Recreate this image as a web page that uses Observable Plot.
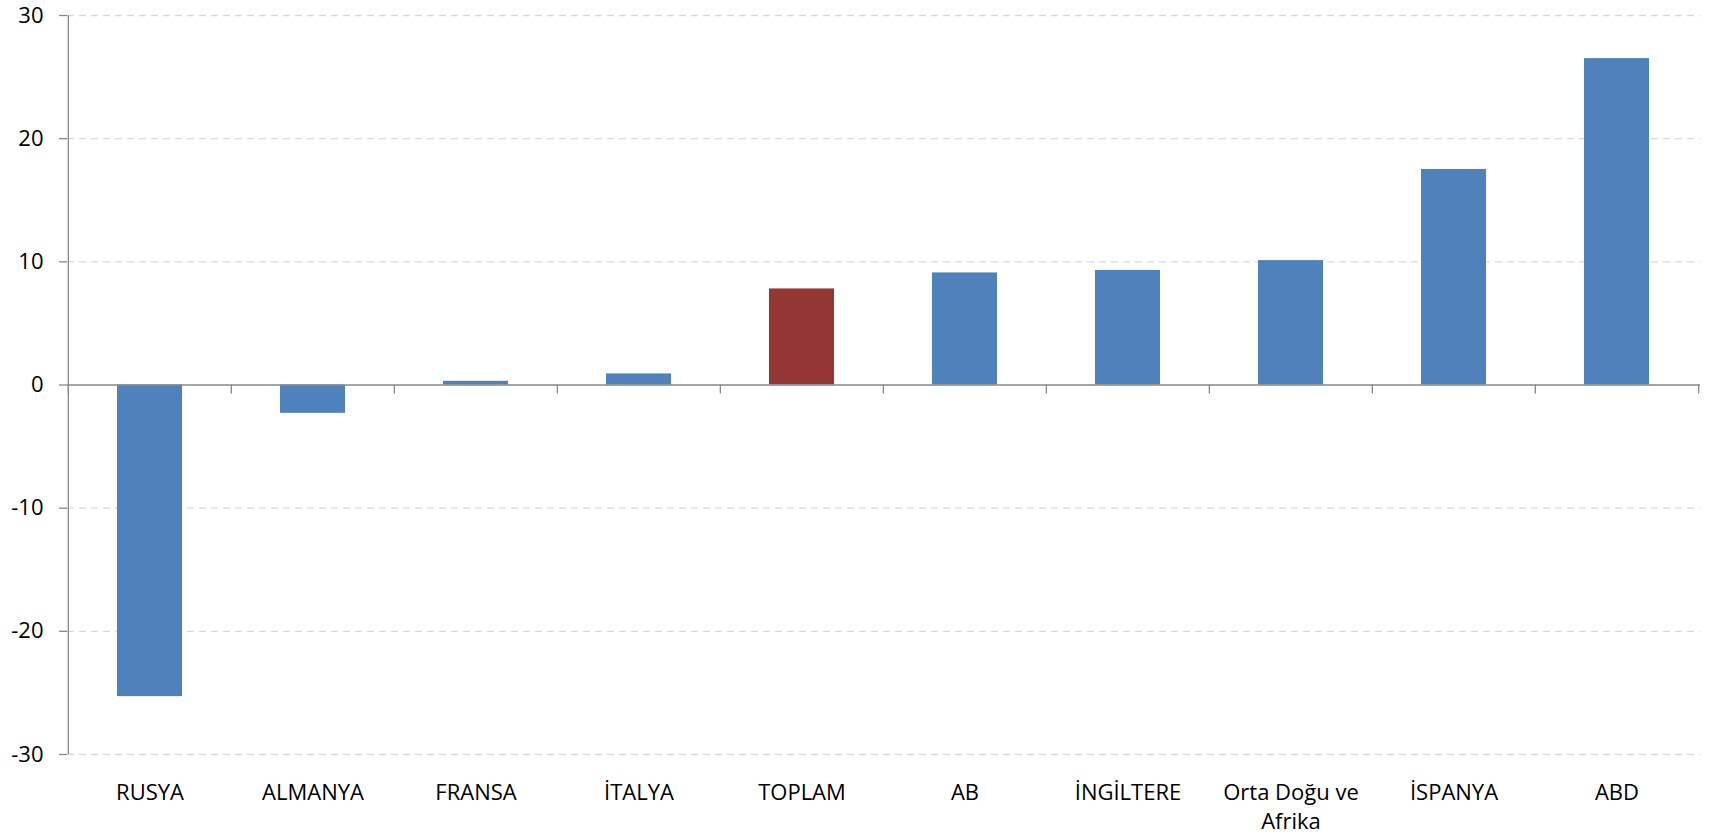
<!DOCTYPE html>
<html>
<head>
<meta charset="utf-8">
<script src="https://cdn.jsdelivr.net/npm/d3@7"></script>
<script src="https://cdn.jsdelivr.net/npm/@observablehq/plot@0.6"></script>
<style>
  html, body { margin: 0; padding: 0; background: #fff; }
  #chart svg { display: block; font-family: "Open Sans", sans-serif; }
</style>
</head>
<body>
<div id="chart"></div>
<script>
const categories = ["RUSYA", "ALMANYA", "FRANSA", "İTALYA", "TOPLAM", "AB", "İNGİLTERE", "Orta Doğu ve\nAfrika", "İSPANYA", "ABD"];
const values = [-25.3, -2.3, 0.3, 0.9, 7.8, 9.1, 9.3, 10.1, 17.5, 26.5];
const yTicks = [-30, -20, -10, 0, 10, 20, 30];
const gridTicks = [-30, -20, -10, 10, 20, 30];
const highlight = "TOPLAM";

const data = categories.map((c, i) => ({category: c, value: values[i]}));

const W = 1710, H = 836;
const mL = 67, mR = 10, mT = 15, mB = 82;
const step = (W - mL - mR) / categories.length;
const axisGray = "#898989";

const chart = Plot.plot({
  width: W,
  height: H,
  marginLeft: mL,
  marginRight: mR,
  marginTop: mT,
  marginBottom: mB,
  style: {background: "#fff", color: "#000", fontFamily: "Open Sans, sans-serif"},
  x: {domain: categories, paddingInner: 0.6, paddingOuter: 0.3, axis: null, label: null},
  y: {domain: [-30, 30], axis: null, label: null},
  marks: [
    Plot.ruleY(gridTicks, {stroke: "#d9d9d9", strokeWidth: 1.3, strokeDasharray: "7,5"}),
    Plot.barY(data, {
      x: "category",
      y: "value",
      fill: d => d.category === highlight ? "#943634" : "#4f81bd"
    }),
    Plot.ruleY([0], {stroke: axisGray, strokeWidth: 1.3}),
    // category boundary ticks below zero line
    Plot.ruleX(categories, {x: d => d, y1: 0, y2: 0, dx: -step / 2, insetBottom: -9, stroke: axisGray, strokeWidth: 1.3}),
    Plot.ruleX([categories[categories.length - 1]], {x: d => d, y1: 0, y2: 0, dx: step / 2, insetBottom: -9, stroke: axisGray, strokeWidth: 1.3}),
    // y axis line
    Plot.ruleX([categories[0]], {x: d => d, y1: -30, y2: 30, dx: -step / 2, stroke: axisGray, strokeWidth: 1.3}),
    Plot.axisY({ticks: yTicks, tickSize: 8, tickPadding: 16, fontSize: 22, stroke: axisGray, strokeWidth: 1.3, fill: "#000", tickFormat: d => d, label: null}),
    Plot.axisX({tickSize: 0, tickPadding: 24, fontSize: 22, lineHeight: 1.35, fill: "#000", label: null})
  ]
});

document.getElementById("chart").appendChild(chart);
</script>
</body>
</html>
